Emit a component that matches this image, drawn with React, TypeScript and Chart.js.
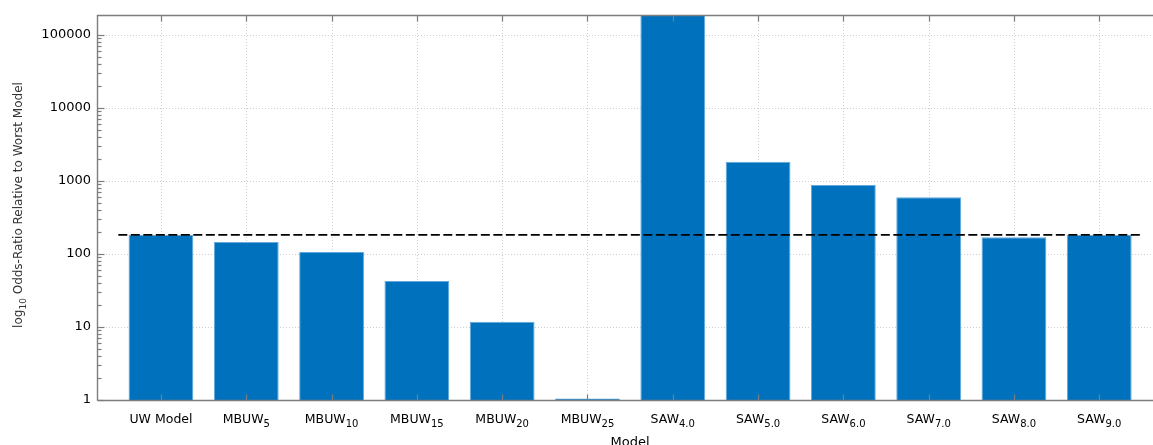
import { useEffect, useRef } from 'react';
import { Chart, registerables } from 'chart.js';

Chart.register(...registerables);

// ---- data ----
const modelNames = ['UW Model', 'MBUW', 'MBUW', 'MBUW', 'MBUW', 'MBUW', 'SAW', 'SAW', 'SAW', 'SAW', 'SAW', 'SAW'];
const modelSubscripts = ['', '5', '10', '15', '20', '25', '4.0', '5.0', '6.0', '7.0', '8.0', '9.0'];
const oddsRatios = [183, 145, 106, 42.5, 11.8, 1.05, 250000, 1830, 877, 595, 169, 181];
const referenceValue = 182;
const referenceSpan = [-0.5, 11.5];
const yTickValues = [1, 10, 100, 1000, 10000, 100000];
const yTickLabels = ['1', '10', '100', '1000', '10000', '100000'];
const yMin = 1;
const yMax = 186000;
const xMin = -0.75;
const xMax = 11.63;

const FONT = '"DejaVu Sans", "Liberation Sans", sans-serif';
const AXIS_COLOR = '#7d7d7d';

const axesPlugin = {
  id: 'matlabAxes',
  beforeDatasetsDraw(chart: any) {
    const { ctx, chartArea: a } = chart;
    const x = chart.scales.x;
    const y = chart.scales.y;
    ctx.save();
    ctx.strokeStyle = '#cfcfcf';
    ctx.lineWidth = 1;
    ctx.setLineDash([1, 2]);
    modelNames.forEach((_, i) => {
      const px = Math.round(x.getPixelForValue(i)) + 0.5;
      ctx.beginPath();
      ctx.moveTo(px, a.top);
      ctx.lineTo(px, a.bottom);
      ctx.stroke();
    });
    yTickValues.forEach((v) => {
      if (v === yMin) return;
      const py = Math.round(y.getPixelForValue(v)) + 0.5;
      ctx.beginPath();
      ctx.moveTo(a.left, py);
      ctx.lineTo(a.right, py);
      ctx.stroke();
    });
    ctx.restore();
  },
  afterDatasetsDraw(chart: any) {
    const { ctx, chartArea: a } = chart;
    const x = chart.scales.x;
    const y = chart.scales.y;
    ctx.save();
    ctx.setLineDash([]);
    ctx.strokeStyle = AXIS_COLOR;
    ctx.lineWidth = 1.4;
    const left = Math.round(a.left) + 0.5;
    const top = Math.round(a.top) + 0.5;
    const bottom = Math.round(a.bottom) + 0.5;
    ctx.beginPath();
    ctx.moveTo(left, bottom);
    ctx.lineTo(left, top);
    ctx.lineTo(a.right, top);
    ctx.stroke();
    ctx.beginPath();
    ctx.moveTo(left, bottom);
    ctx.lineTo(a.right, bottom);
    ctx.stroke();
    ctx.lineWidth = 1.2;
    modelNames.forEach((_, i) => {
      const px = Math.round(x.getPixelForValue(i)) + 0.5;
      ctx.beginPath();
      ctx.moveTo(px, top);
      ctx.lineTo(px, top + 6);
      ctx.moveTo(px, bottom);
      ctx.lineTo(px, bottom - 6);
      ctx.stroke();
    });
    for (let k = 0; k <= 5; k++) {
      for (let m = 1; m <= 9; m++) {
        const v = m * Math.pow(10, k);
        if (v > yMax) continue;
        const py = Math.round(y.getPixelForValue(v)) + 0.5;
        ctx.beginPath();
        ctx.moveTo(left, py);
        ctx.lineTo(left + (m === 1 ? 7 : 4), py);
        ctx.stroke();
      }
    }
    ctx.fillStyle = '#000';
    ctx.font = `13px ${FONT}`;
    ctx.textAlign = 'right';
    ctx.textBaseline = 'middle';
    yTickValues.forEach((v, i) => {
      const py = y.getPixelForValue(v);
      ctx.fillText(yTickLabels[i], a.left - 6, py);
    });
    const mainFont = `12.5px ${FONT}`;
    const subFont = `10px ${FONT}`;
    ctx.textAlign = 'left';
    ctx.textBaseline = 'alphabetic';
    modelNames.forEach((name, i) => {
      const sub = modelSubscripts[i];
      ctx.font = mainFont;
      const w1 = ctx.measureText(name).width;
      ctx.font = subFont;
      const w2 = sub ? ctx.measureText(sub).width : 0;
      const cx = x.getPixelForValue(i);
      const sx = cx - (w1 + w2) / 2;
      const base = a.bottom + 23;
      ctx.font = mainFont;
      ctx.fillText(name, sx, base);
      if (sub) {
        ctx.font = subFont;
        ctx.fillText(sub, sx + w1, base + 4);
      }
    });
    ctx.font = `13px ${FONT}`;
    ctx.textAlign = 'center';
    ctx.fillText('Model', x.getPixelForValue((xMin + 11.75) / 2), a.bottom + 46);
    ctx.fillStyle = '#333';
    const tMain = `12px ${FONT}`;
    const tSub = `9px ${FONT}`;
    const p1 = 'log';
    const p2 = '10';
    const p3 = ' Odds-Ratio Relative to Worst Model';
    ctx.font = tMain;
    const w1 = ctx.measureText(p1).width;
    const w3 = ctx.measureText(p3).width;
    ctx.font = tSub;
    const w2 = ctx.measureText(p2).width;
    const total = w1 + w2 + w3;
    ctx.translate(22, 205);
    ctx.rotate(-Math.PI / 2);
    ctx.textAlign = 'left';
    let cur = -total / 2;
    ctx.font = tMain;
    ctx.fillText(p1, cur, 0);
    cur += w1;
    ctx.font = tSub;
    ctx.fillText(p2, cur, 3.5);
    cur += w2;
    ctx.font = tMain;
    ctx.fillText(p3, cur, 0);
    ctx.restore();
  },
};

export default function App() {
  const canvasRef = useRef<HTMLCanvasElement | null>(null);

  useEffect(() => {
    if (!canvasRef.current) return;
    const chart = new Chart(canvasRef.current, {
      type: 'bar',
      data: {
        datasets: [
          {
            type: 'line',
            data: referenceSpan.map((xv) => ({ x: xv, y: referenceValue })),
            borderColor: '#000',
            borderWidth: 1.8,
            borderDash: [9, 3.5],
            pointRadius: 0,
            fill: false,
            order: 0,
          } as any,
          {
            type: 'bar',
            data: oddsRatios.map((v, i) => ({ x: i, y: v })),
            backgroundColor: '#0071BD',
            borderColor: '#62A9DE',
            borderWidth: 1,
            categoryPercentage: 1,
            barPercentage: 0.76,
            order: 1,
          } as any,
        ],
      },
      options: {
        animation: false,
        responsive: false,
        devicePixelRatio: 1,
        layout: { padding: { left: 97, top: 15, right: 0, bottom: 45 } },
        plugins: { legend: { display: false }, tooltip: { enabled: false } },
        scales: {
          x: {
            type: 'linear',
            offset: false,
            min: xMin,
            max: xMax,
            ticks: { display: false, stepSize: 1, includeBounds: false },
            grid: { display: false, drawTicks: false, offset: false },
            border: { display: false },
          },
          y: {
            type: 'logarithmic',
            min: yMin,
            max: yMax,
            ticks: { display: false },
            grid: { display: false, drawTicks: false },
            border: { display: false },
          },
        },
      },
      plugins: [axesPlugin],
    });
    return () => chart.destroy();
  }, []);

  return (
    <div style={{ position: 'fixed', left: 0, top: 0, width: 1153, height: 445, background: '#fff' }}>
      <canvas ref={canvasRef} width={1153} height={445} style={{ display: 'block', width: 1153, height: 445 }} />
    </div>
  );
}
